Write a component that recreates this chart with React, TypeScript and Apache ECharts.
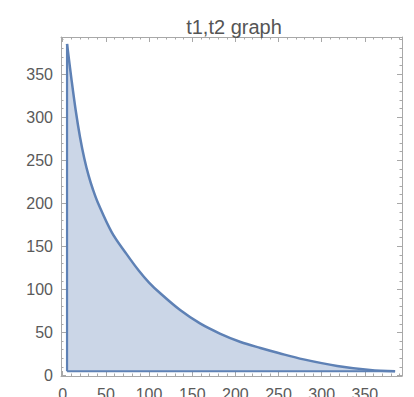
import React, { useEffect, useRef } from "react";
import * as echarts from "echarts";

const titleText = "t1,t2 graph";

// curve boundary t2 = f(t1)
const t1Values = [5, 10, 15, 20, 25, 30, 35, 41, 57, 74, 88, 100, 113, 136, 159, 182, 206, 229, 250, 279, 318, 356, 385];
const t2Values = [385, 345, 308, 277, 252, 232, 216, 200, 166, 141, 122, 108, 95.5, 76, 60.5, 48.8, 39, 32, 26.2, 18.8, 11.2, 6.5, 5];

// straight edges of the region
const leftEdgeT1 = [5, 5];
const leftEdgeT2 = [5, 385];
const bottomEdgeT1 = [5, 385];
const bottomEdgeT2 = [5, 5];
const baseT2 = 5;

const xTicks = [0, 50, 100, 150, 200, 250, 300, 350];
const yTicks = [0, 50, 100, 150, 200, 250, 300, 350];
const xMinorTicks = Array.from({ length: 40 }, (_, i) => i * 10).filter((v) => v % 50 !== 0);
const yMinorTicks = Array.from({ length: 40 }, (_, i) => i * 10).filter((v) => v % 50 !== 0);

const X_MIN = -2;
const X_MAX = 393;
const Y_MIN = -0.5;
const Y_MAX = 393;

const BLUE = "#5E81B5";
const FRAME = "#a8a8a8";
const LABEL = "#5a5a5a";
const FONT = "'Liberation Sans', Arial, sans-serif";

function zip(a: number[], b: number[]) {
  return a.map((v, i) => [v, b[i]]);
}

function makeX(position: "bottom" | "top", ticks: number[], len: number, labels: boolean, line: boolean) {
  return {
    type: "value",
    position,
    min: X_MIN,
    max: X_MAX,
    axisLine: { show: line, onZero: false, lineStyle: { color: FRAME, width: 1 } },
    axisTick: { show: true, inside: true, length: len, customValues: ticks, lineStyle: { color: FRAME, width: 1 } },
    axisLabel: labels
      ? { show: true, customValues: ticks, margin: 10, fontSize: 16, color: LABEL, fontFamily: FONT }
      : { show: false },
    splitLine: { show: false },
  };
}

function makeY(position: "left" | "right", ticks: number[], len: number, labels: boolean, line: boolean) {
  return {
    type: "value",
    position,
    min: Y_MIN,
    max: Y_MAX,
    axisLine: { show: line, onZero: false, lineStyle: { color: FRAME, width: 1 } },
    axisTick: { show: true, inside: true, length: len, customValues: ticks, lineStyle: { color: FRAME, width: 1 } },
    axisLabel: labels
      ? { show: true, customValues: ticks, margin: 8, fontSize: 16, color: LABEL, fontFamily: FONT }
      : { show: false },
    splitLine: { show: false },
  };
}

export default function App() {
  const ref = useRef<HTMLDivElement>(null);
  useEffect(() => {
    if (!ref.current) return;
    const chart = echarts.init(ref.current, undefined, { renderer: "svg" });
    chart.setOption({
      animation: false,
      backgroundColor: "#ffffff",
      title: {
        text: titleText,
        left: 229,
        textAlign: "center",
        top: 12,
        textStyle: { fontSize: 20, fontWeight: "normal", color: "#555555", fontFamily: FONT },
      },
      grid: { left: 61, right: 12, top: 37, bottom: 21, containLabel: false, outerBoundsMode: "none" },
      xAxis: [
        makeX("bottom", xTicks, 5, true, true),
        makeX("top", xTicks, 5, false, true),
        makeX("bottom", xMinorTicks, 2.5, false, false),
        makeX("top", xMinorTicks, 2.5, false, false),
      ],
      yAxis: [
        makeY("left", yTicks, 5, true, true),
        makeY("right", yTicks, 5, false, true),
        makeY("left", yMinorTicks, 2.5, false, false),
        makeY("right", yMinorTicks, 2.5, false, false),
      ],
      series: [
        {
          type: "line",
          xAxisIndex: 0,
          yAxisIndex: 0,
          data: zip(t1Values, t2Values),
          smooth: 0.35,
          showSymbol: false,
          symbol: "none",
          lineStyle: { color: BLUE, width: 2.5 },
          areaStyle: { color: BLUE, opacity: 0.32, origin: baseT2 },
          z: 2,
        },
        {
          type: "line",
          xAxisIndex: 0,
          yAxisIndex: 0,
          data: zip(leftEdgeT1, leftEdgeT2),
          showSymbol: false,
          symbol: "none",
          lineStyle: { color: BLUE, width: 2.2 },
          z: 3,
        },
        {
          type: "line",
          xAxisIndex: 0,
          yAxisIndex: 0,
          data: zip(bottomEdgeT1, bottomEdgeT2),
          showSymbol: false,
          symbol: "none",
          lineStyle: { color: BLUE, width: 2.2 },
          z: 3,
        },
      ],
    });
    return () => chart.dispose();
  }, []);
  return (
    <div
      ref={ref}
      style={{ position: "fixed", left: 0, top: 0, width: 414, height: 397, background: "#fff" }}
    />
  );
}
